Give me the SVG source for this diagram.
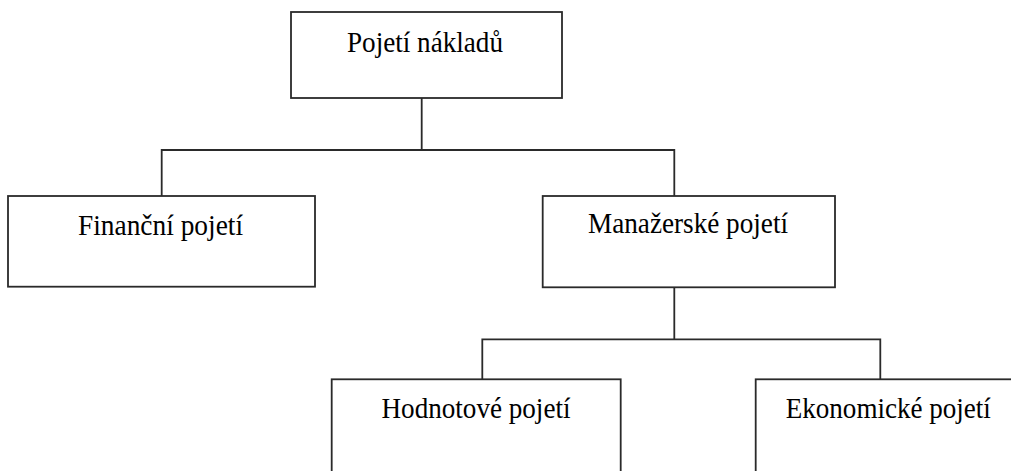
<svg xmlns="http://www.w3.org/2000/svg" width="1011" height="471" viewBox="0 0 1011 471">
<style>
.box{fill:#fff;stroke:#2a2a2a;stroke-width:1.8}
.conn{fill:none;stroke:#2a2a2a;stroke-width:1.8}
.lbl{font-family:"Liberation Serif","Times New Roman",serif;font-size:29.5px;fill:#000;text-anchor:middle}
</style>
<rect width="1011" height="471" fill="#fff"/>
<g id="connectors">
<path class="conn" d="M421.7,98 V150 M161.7,196 V150 H674.3 V196"/>
<path class="conn" d="M674.3,287.3 V339.3 M482.3,379.3 V339.3 H880.3 V379.3"/>
</g>
<g id="node-pojeti-nakladu">
<rect class="box" x="291" y="12" width="271" height="86"/>
<text class="lbl" x="425" y="52" textLength="156" lengthAdjust="spacingAndGlyphs">Pojetí nákladů</text>
</g>
<g id="node-financni">
<rect class="box" x="8" y="196" width="307" height="90.7"/>
<text class="lbl" x="160.5" y="235" textLength="165" lengthAdjust="spacingAndGlyphs">Finanční pojetí</text>
</g>
<g id="node-manazerske">
<rect class="box" x="542.7" y="196" width="292.3" height="91.3"/>
<text class="lbl" x="688" y="233" textLength="200" lengthAdjust="spacingAndGlyphs">Manažerské pojetí</text>
</g>
<g id="node-hodnotove">
<rect class="box" x="331.7" y="379.3" width="289" height="110"/>
<text class="lbl" x="476" y="417.7" textLength="189" lengthAdjust="spacingAndGlyphs">Hodnotové pojetí</text>
</g>
<g id="node-ekonomicke">
<rect class="box" x="755.7" y="379.3" width="270" height="110"/>
<text class="lbl" x="888.3" y="417.7" textLength="205" lengthAdjust="spacingAndGlyphs">Ekonomické pojetí</text>
</g>
</svg>
